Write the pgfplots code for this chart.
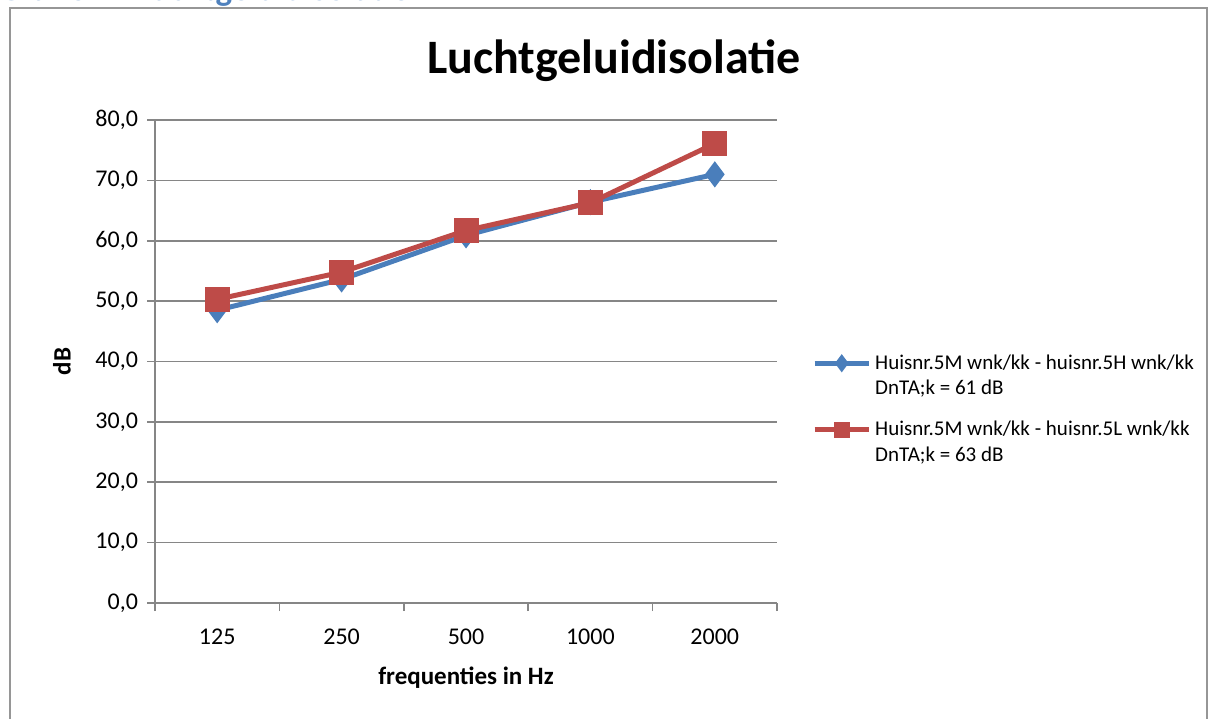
\documentclass[border=0pt]{standalone}
\usepackage{fontspec}
\setmainfont{Carlito}
\usepackage{pgfplots}
\pgfplotsset{compat=1.18}
\definecolor{sblue}{RGB}{74,126,187}
\definecolor{sred}{RGB}{190,75,72}
\definecolor{tblue}{RGB}{79,129,189}
\definecolor{gridc}{RGB}{134,134,134}
\definecolor{framec}{RGB}{150,150,150}
\newcommand\twoline[2]{\rlap{\raisebox{-12.8pt}[0pt][0pt]{#2}}#1}
\begin{document}
\begin{tikzpicture}
\begin{scope}[x=0.5pt,y=-0.5pt]
\useasboundingbox (0,0) rectangle (1209,718);
\draw[framec, line width=1pt] (10,730) -- (10,8) -- (1207,8) -- (1207,730);
\node[anchor=base west, inner sep=0, font=\fontsize{17.5}{20}\selectfont\bfseries, text=tblue] at (-2,0) {Grafiek 1 Luchtgeluidisolatie};
\node[font=\fontsize{24}{28}\selectfont\bfseries, anchor=base, inner sep=0] at (614,73) {Luchtgeluidisolatie};
\coordinate (ax) at (155,603);
\end{scope}
\begin{axis}[at={(ax)}, anchor=south west, scale only axis,
  width=311pt, height=241.5pt,
  xmin=-0.5, xmax=4.5, ymin=0, ymax=80,
  axis x line=bottom, axis y line=left,
  axis line style={-, gridc, line width=0.8pt},
  xtick={0,1,2,3,4}, xticklabels={125,250,500,1000,2000},
  minor xtick={-0.5,0.5,1.5,2.5,3.5,4.5},
  major x tick style={draw=none},
  minor x tick style={gridc, line width=0.8pt},
  ytick={0,10,...,80},
  y tick style={gridc, line width=0.8pt},
  tick align=outside, major tick length=4pt, minor tick length=4pt,
  ymajorgrids, major grid style={gridc, line width=0.8pt},
  tick label style={font=\fontsize{12}{14}\selectfont},
  /pgf/number format/assume math mode=true,
  yticklabel={\pgfmathprintnumber[fixed, fixed zerofill, precision=1, use comma]{\tick}},
  xticklabel style={yshift=-5.5pt},
  yticklabel style={xshift=-1pt},
  xlabel={\textbf{frequenties in Hz}},
  ylabel={\textbf{dB}},
  label style={font=\fontsize{12.5}{14}\selectfont},
  xlabel style={at={(axis description cs:0.5,-0.155)}, anchor=center},
  ylabel style={at={(axis description cs:-0.1495,0.5)}, anchor=center, rotate=0},
  legend style={at={(axis description cs:1.056,0.532)}, anchor=north west, draw=none, fill=none,
    font=\fontsize{10.5}{13}\selectfont, cells={anchor=west}, row sep=20.5pt, inner xsep=0pt},
  legend image code/.code={\draw[#1, mark repeat=2, mark phase=2] plot coordinates {(0pt,0pt) (13.5pt,0pt) (27pt,0pt)};},
  legend image post style={mark options={scale=0.55}},
]
\addplot[sblue, line width=2.5pt, mark=diamond*, mark size=4.5pt, mark options={solid}]
  coordinates {(0,48.5) (1,53.6) (2,60.9) (3,66.4) (4,71.0)};
\addlegendentry{\twoline{Huisnr.5M wnk/kk - huisnr.5H wnk/kk}{DnTA;k = 61 dB}}
\addplot[sred, line width=2.5pt, mark=square*, mark size=5pt, mark options={solid}]
  coordinates {(0,50.3) (1,54.8) (2,61.7) (3,66.3) (4,76.1)};
\addlegendentry{\twoline{Huisnr.5M wnk/kk - huisnr.5L wnk/kk}{DnTA;k = 63 dB}}
\end{axis}
\end{tikzpicture}
\end{document}
